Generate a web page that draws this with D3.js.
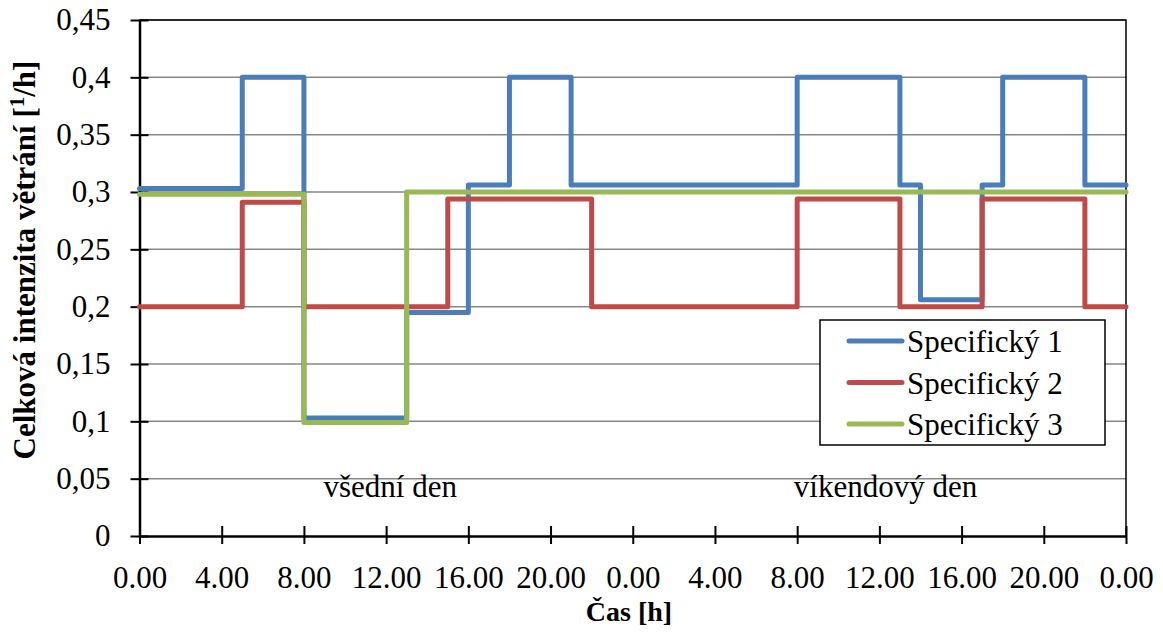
<!DOCTYPE html>
<meta charset="utf-8">
<style>
body { margin: 0; background: #fff; }
.grid line { stroke: #878787; stroke-width: 1.5px; }
.series { fill: none; stroke-width: 5px; stroke-linejoin: round; stroke-linecap: round; }
</style>
<body>
<script src="https://d3js.org/d3.v7.min.js"></script>
<script>

// hodiny, ve kterých se mění hodnota (0-48 = všední + víkendový den)
var hours1 = [0, 5, 8, 13, 16, 18, 21, 32, 37, 38, 41, 42, 46, 48];
var values1 = [0.303, 0.4, 0.103, 0.195, 0.306, 0.4, 0.306, 0.4, 0.306, 0.206, 0.306, 0.4, 0.306, 0.306];

var hours2 = [0, 5, 8, 15, 22, 32, 37, 41, 46, 48];
var values2 = [0.2, 0.291, 0.2, 0.294, 0.2, 0.294, 0.2, 0.294, 0.2, 0.2];

var hours3 = [0, 8, 13, 48];
var values3 = [0.298, 0.099, 0.3, 0.3];

var seriesNames = ["Specifick\u00fd 1", "Specifick\u00fd 2", "Specifick\u00fd 3"];
var seriesColors = ['#4a7ebb', '#be4b48', '#98b954'];
var xTicks = [0, 4, 8, 12, 16, 20, 24, 28, 32, 36, 40, 44, 48];
var dayLabels = ["v\u0161edn\u00ed den", "v\u00edkendov\u00fd den"];
var dayLabelHours = [12.2, 36.3];
var xTitle = "\u010Cas [h]";
var yTitle = ["Celkov\u00e1 intenzita v\u011btr\u00e1n\u00ed [", "1", "/h]"];

var FONT = "Liberation Serif";
var W = 1163, H = 635;
var svg = d3.select("body").append("svg").attr("width", W).attr("height", H);

var x = d3.scaleLinear().domain([0, 48]).range([139.5, 1126]);
var y = d3.scaleLinear().domain([0, 0.45]).range([536, 20]);

// mřížka
svg.append("g").attr("class", "grid")
  .selectAll("line").data(y.ticks(10).slice(1))
  .enter().append("line")
  .attr("x1", x(0)).attr("x2", x(48))
  .attr("y1", d => y(d)).attr("y2", d => y(d));

// rámeček nahoře a vpravo
svg.append("path")
  .attr("d", "M" + x(0) + "," + y(0.45) + "H" + x(48) + "V" + y(0))
  .attr("fill", "none").attr("stroke", "#000").attr("stroke-width", 1.5);

// osa y
var yAxis = d3.axisLeft(y).ticks(10)
  .tickFormat(d => d3.format("~g")(d).replace(".", ","))
  .tickSizeInner(9).tickSizeOuter(0).tickPadding(20);
var gy = svg.append("g").attr("transform", "translate(" + x(0) + ",0)").call(yAxis)
  .attr("font-family", FONT).attr("font-size", 31);
gy.select(".domain").attr("stroke-width", 2.5);
gy.selectAll(".tick line").attr("x2", 9).attr("x1", -9).attr("stroke-width", 2);

// osa x
var xAxis = d3.axisBottom(x).tickValues(xTicks)
  .tickFormat(d => (d % 24).toFixed(2))
  .tickSizeInner(8).tickSizeOuter(0).tickPadding(22);
var gx = svg.append("g").attr("transform", "translate(0," + y(0) + ")").call(xAxis)
  .attr("font-family", FONT).attr("font-size", 31);
gx.select(".domain").attr("stroke-width", 2.5);
gx.selectAll(".tick line").attr("y1", -10).attr("y2", 8).attr("stroke-width", 2);

// řady
var line = d3.line().x(d => x(d[0])).y(d => y(d[1])).curve(d3.curveStepAfter);
var series = [d3.zip(hours1, values1), d3.zip(hours2, values2), d3.zip(hours3, values3)];
svg.selectAll(".series").data(series).enter().append("path")
  .attr("class", "series")
  .attr("stroke", (d, i) => seriesColors[i])
  .attr("d", line);

// popisky dnů
svg.selectAll(".day").data(dayLabels).enter().append("text")
  .attr("class", "day")
  .attr("x", (d, i) => x(dayLabelHours[i])).attr("y", 497)
  .attr("text-anchor", "middle").attr("font-size", 31)
  .attr("font-family", FONT)
  .text(d => d);

// názvy os
svg.append("text")
  .attr("x", 629).attr("y", 621)
  .attr("text-anchor", "middle").attr("font-size", 28).attr("font-weight", "bold")
  .attr("font-family", FONT)
  .text(xTitle);

var yt = svg.append("text")
  .attr("transform", "translate(35,260) rotate(-90)")
  .attr("text-anchor", "middle").attr("font-size", 31).attr("font-weight", "bold")
  .attr("font-family", FONT);
yt.append("tspan").text(yTitle[0]);
yt.append("tspan").attr("font-size", 21).attr("dy", -11).text(yTitle[1]);
yt.append("tspan").attr("dy", 11).text(yTitle[2]);

// legenda
var lg = svg.append("g").attr("transform", "translate(820,320)");
lg.append("rect").attr("width", 285).attr("height", 125)
  .attr("fill", "#fff").attr("stroke", "#000").attr("stroke-width", 1.5);
var items = lg.selectAll(".item").data(seriesNames).enter().append("g")
  .attr("transform", (d, i) => "translate(0," + (21 + i * 41.5) + ")");
items.append("line").attr("x1", 29).attr("x2", 82)
  .attr("stroke", (d, i) => seriesColors[i]).attr("stroke-width", 5).attr("stroke-linecap", "round");
items.append("text").attr("x", 87).attr("y", 11).attr("font-size", 31)
  .attr("font-family", FONT).text(d => d);

</script>
</body>
